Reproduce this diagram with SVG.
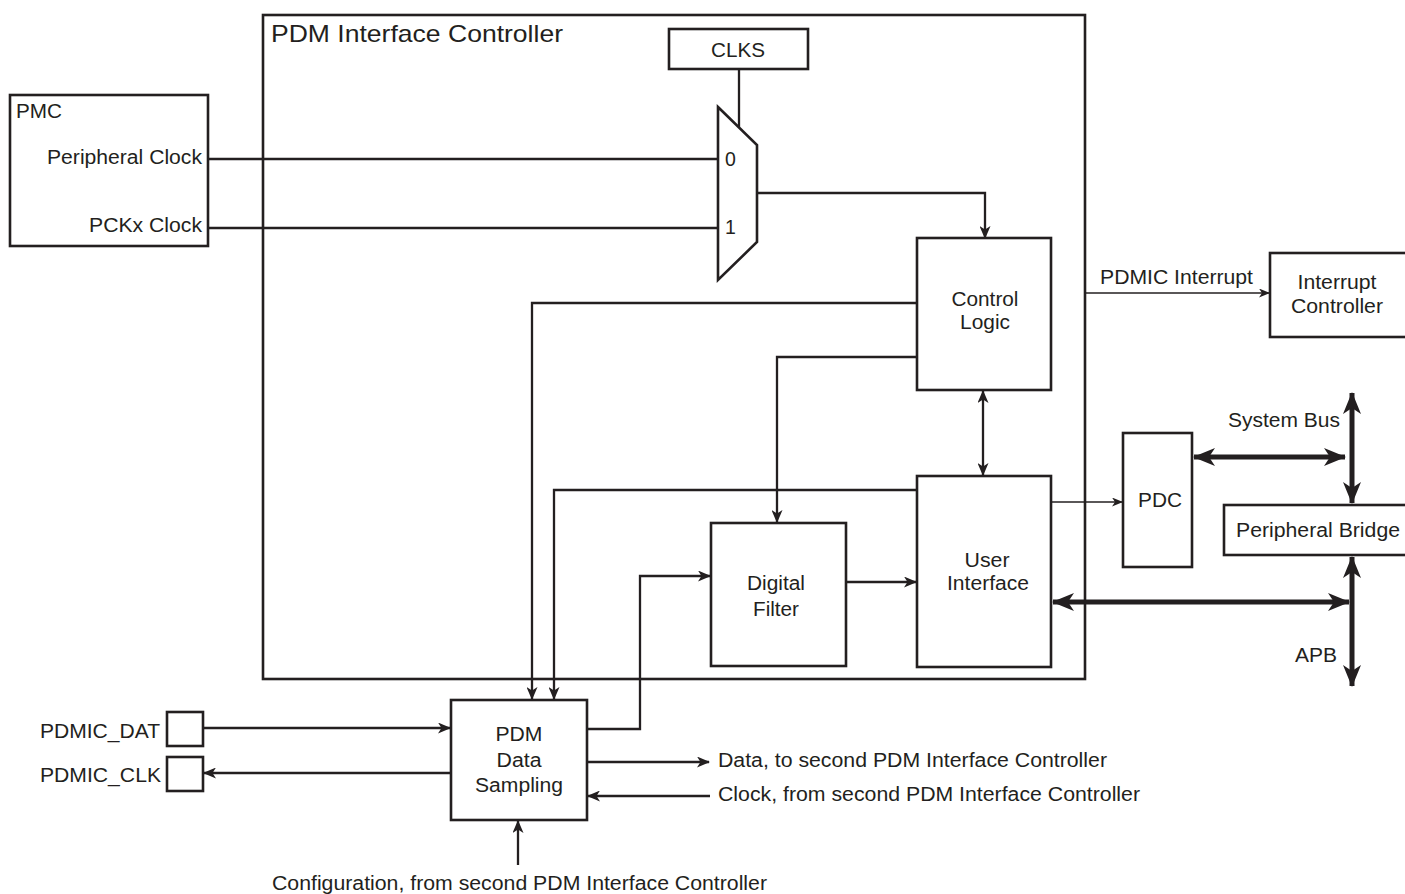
<svg xmlns="http://www.w3.org/2000/svg" width="1405" height="894" viewBox="0 0 1405 894">
<style>
.box{fill:#fff;stroke:#231f20;stroke-width:2.6}
.ln{fill:none;stroke:#231f20;stroke-width:2.3}
.thin{fill:none;stroke:#231f20;stroke-width:1.3}
.bus{fill:none;stroke:#231f20;stroke-width:5}
text{font-family:"Liberation Sans",Arial,sans-serif;font-size:19.5px;fill:#231f20}
.c{text-anchor:middle}
</style>
<defs>
<marker id="a" markerUnits="userSpaceOnUse" markerWidth="13" markerHeight="11" refX="12" refY="5.5" orient="auto-start-reverse" viewBox="0 0 13 11">
<path d="M0,0 L13,5.5 L0,11 L3.5,5.5 z" fill="#231f20"/>
</marker>
<marker id="at" markerUnits="userSpaceOnUse" markerWidth="11" markerHeight="9" refX="10" refY="4.5" orient="auto-start-reverse" viewBox="0 0 11 9">
<path d="M0,0 L11,4.5 L0,9 L3,4.5 z" fill="#231f20"/>
</marker>
<marker id="ab" markerUnits="userSpaceOnUse" markerWidth="22" markerHeight="18" refX="21" refY="9" orient="auto-start-reverse" viewBox="0 0 22 18">
<path d="M0,0 L22,9 L0,18 L6,9 z" fill="#231f20"/>
</marker>
</defs>

<g id="pdmic">
<rect class="box" x="263" y="15" width="822" height="664" fill="none"/>
<text x="271" y="42" style="font-size:24px" textLength="292" lengthAdjust="spacingAndGlyphs">PDM Interface Controller</text>
</g>

<g id="pmc">
<rect class="box" x="10" y="95" width="198" height="151"/>
<text x="16" y="118" textLength="46" lengthAdjust="spacingAndGlyphs">PMC</text>
<text x="47" y="164" textLength="155" lengthAdjust="spacingAndGlyphs">Peripheral Clock</text>
<text x="89" y="232" textLength="113" lengthAdjust="spacingAndGlyphs">PCKx Clock</text>
</g>

<g id="clks">
<rect class="box" x="669" y="29" width="139" height="40"/>
<text class="c" x="738" y="57" textLength="54" lengthAdjust="spacingAndGlyphs">CLKS</text>
</g>

<g id="mux">
<polygon class="box" points="718,107 757,145 757,242 718,280"/>
<text x="725" y="166">0</text>
<text x="725" y="234">1</text>
</g>

<g id="control-logic">
<rect class="box" x="917" y="238" width="134" height="152"/>
<text class="c" x="985" y="306" textLength="67" lengthAdjust="spacingAndGlyphs">Control</text>
<text class="c" x="985" y="329" textLength="50" lengthAdjust="spacingAndGlyphs">Logic</text>
</g>

<g id="user-interface">
<rect class="box" x="917" y="476" width="134" height="191"/>
<text class="c" x="987" y="567" textLength="45" lengthAdjust="spacingAndGlyphs">User</text>
<text class="c" x="988" y="590" textLength="82" lengthAdjust="spacingAndGlyphs">Interface</text>
</g>

<g id="digital-filter">
<rect class="box" x="711" y="523" width="135" height="143"/>
<text class="c" x="776" y="590" textLength="58" lengthAdjust="spacingAndGlyphs">Digital</text>
<text class="c" x="776" y="616" textLength="46" lengthAdjust="spacingAndGlyphs">Filter</text>
</g>

<g id="pdm-data-sampling">
<rect class="box" x="451" y="700" width="136" height="120"/>
<text class="c" x="519" y="741" textLength="47" lengthAdjust="spacingAndGlyphs">PDM</text>
<text class="c" x="519" y="767" textLength="45" lengthAdjust="spacingAndGlyphs">Data</text>
<text class="c" x="519" y="792" textLength="88" lengthAdjust="spacingAndGlyphs">Sampling</text>
</g>

<g id="interrupt-controller">
<rect class="box" x="1270" y="253" width="140" height="84"/>
<text class="c" x="1337" y="289" textLength="79" lengthAdjust="spacingAndGlyphs">Interrupt</text>
<text class="c" x="1337" y="313" textLength="92" lengthAdjust="spacingAndGlyphs">Controller</text>
</g>

<g id="pdc">
<rect class="box" x="1123" y="433" width="69" height="134"/>
<text class="c" x="1160" y="507" textLength="44" lengthAdjust="spacingAndGlyphs">PDC</text>
</g>

<g id="peripheral-bridge">
<rect class="box" x="1224" y="505" width="190" height="50"/>
<text x="1236" y="537" textLength="164" lengthAdjust="spacingAndGlyphs">Peripheral Bridge</text>
</g>

<g id="pdmic-dat">
<rect class="box" x="167" y="712" width="36" height="34"/>
<text x="40" y="738" textLength="120" lengthAdjust="spacingAndGlyphs">PDMIC_DAT</text>
</g>

<g id="pdmic-clk">
<rect class="box" x="167" y="757" width="36" height="34"/>
<text x="40" y="782" textLength="121" lengthAdjust="spacingAndGlyphs">PDMIC_CLK</text>
</g>

<g id="connectors">
<path class="ln" d="M208,159 H718"/>
<path class="ln" d="M208,228 H718"/>
<path class="ln" d="M739,69 V127"/>
<path class="ln" d="M757,193 H985 V238" marker-end="url(#a)"/>
<path class="ln" d="M983,391 V475" marker-start="url(#a)" marker-end="url(#a)"/>
<path class="ln" d="M917,303 H532 V699" marker-end="url(#a)"/>
<path class="ln" d="M917,357 H777 V522" marker-end="url(#a)"/>
<path class="ln" d="M917,490 H554 V699" marker-end="url(#a)"/>
<path class="ln" d="M587,729 H640 V576 H710" marker-end="url(#a)"/>
<path class="ln" d="M847,582 H916" marker-end="url(#a)"/>
<path class="ln" d="M203,728 H450" marker-end="url(#a)"/>
<path class="ln" d="M451,773 H204" marker-end="url(#a)"/>
<path class="ln" d="M587,762 H709" marker-end="url(#a)"/>
<path class="ln" d="M710,796 H588" marker-end="url(#a)"/>
<path class="ln" d="M518,865 V821" marker-end="url(#a)"/>
<path class="thin" d="M1085,293 H1269" marker-end="url(#at)"/>
<path class="thin" d="M1051,502 H1122" marker-end="url(#at)"/>
<path class="bus" d="M1194,457 H1345" marker-start="url(#ab)" marker-end="url(#ab)"/>
<path class="bus" d="M1352,393 V503" marker-start="url(#ab)" marker-end="url(#ab)"/>
<path class="bus" d="M1352,557 V686" marker-start="url(#ab)" marker-end="url(#ab)"/>
<path class="bus" d="M1053,602 H1349" marker-start="url(#ab)" marker-end="url(#ab)"/>
<text x="1100" y="284" textLength="153" lengthAdjust="spacingAndGlyphs">PDMIC Interrupt</text>
<text x="1228" y="427" textLength="112" lengthAdjust="spacingAndGlyphs">System Bus</text>
<text x="1295" y="662" textLength="42" lengthAdjust="spacingAndGlyphs">APB</text>
<text x="718" y="767" textLength="389" lengthAdjust="spacingAndGlyphs">Data, to second PDM Interface Controller</text>
<text x="718" y="801" textLength="422" lengthAdjust="spacingAndGlyphs">Clock, from second PDM Interface Controller</text>
<text x="272" y="890" textLength="495" lengthAdjust="spacingAndGlyphs">Configuration, from second PDM Interface Controller</text>
</g>
</svg>
